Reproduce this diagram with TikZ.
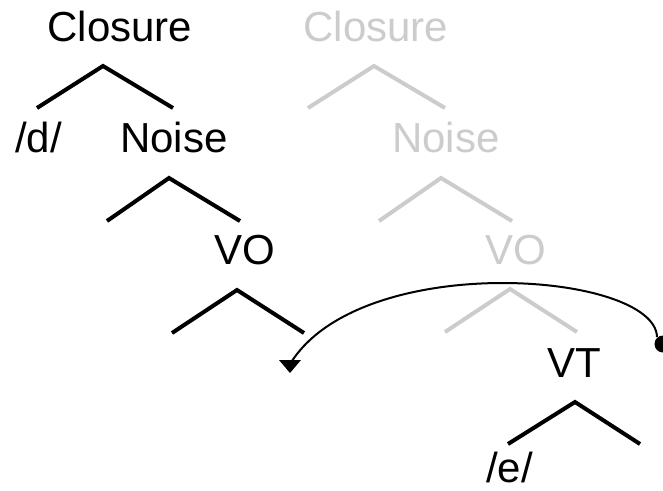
\documentclass[tikz,border=0pt]{standalone}
\usepackage{fontspec}
\setmainfont{Liberation Sans}
\definecolor{lightgr}{RGB}{204,204,204}
\begin{document}
\begin{tikzpicture}[x=1pt,y=-1pt,
  lbl/.style={anchor=base, inner sep=0pt, font=\fontsize{42}{42}\selectfont},
  glbl/.style={lbl, text=lightgr},
  br/.style={line width=4pt, line cap=butt, line join=miter},
  gbr/.style={br, draw=lightgr},
  movecurve/.style={line width=2pt}]
\useasboundingbox (0,0) rectangle (663,490);
\clip (0,0) rectangle (663,490);
% black tree
\node[lbl] (cl) at (120,41) {Closure};
\node[lbl] (d) at (38.5,152) {/d/};
\node[lbl] (no) at (174,152) {Noise};
\node[lbl] (vo) at (245,264) {VO};
% grey tree
\node[glbl] (gcl) at (376,41) {Closure};
\node[glbl] (gno) at (446,152) {Noise};
\node[glbl] (gvo) at (516,264) {VO};
% VT
\node[lbl] (vt) at (574,377) {VT};
\node[lbl] (e) at (509.5,482) {/e/};
% branch coordinates
\coordinate (clA) at (103,66); \coordinate (clL) at (37,108); \coordinate (clR) at (173,108);
\coordinate (noA) at (169,178); \coordinate (noL) at (107,221); \coordinate (noR) at (240,221);
\coordinate (voA) at (237,290); \coordinate (voL) at (172,333); \coordinate (voR) at (304,333);
\coordinate (gclA) at (374,66); \coordinate (gclL) at (308,108); \coordinate (gclR) at (445,108);
\coordinate (gnoA) at (441,178); \coordinate (gnoL) at (379,221); \coordinate (gnoR) at (512,221);
\coordinate (gvoA) at (510,289); \coordinate (gvoL) at (445,332); \coordinate (gvoR) at (577,332);
\coordinate (vtA) at (575,402); \coordinate (vtL) at (508,444); \coordinate (vtR) at (640,444);
\draw[br] (clL) -- (clA) -- (clR);
\draw[br] (noL) -- (noA) -- (noR);
\draw[br] (voL) -- (voA) -- (voR);
\draw[gbr] (gclL) -- (gclA) -- (gclR);
\draw[gbr] (gnoL) -- (gnoA) -- (gnoR);
\draw[gbr] (gvoL) -- (gvoA) -- (gvoR);
\draw[br] (vtL) -- (vtA) -- (vtR);
% movement arrow
\coordinate (dotc) at (663,344);
\coordinate (cstart) at (657,337);
\coordinate (cend) at (292,361);
\coordinate (tipL) at (279,360);
\coordinate (tipR) at (301,360);
\coordinate (tip) at (290,373);
\fill (dotc) circle (8.5);
\draw[movecurve] (cstart) .. controls (655,272) and (365,250) .. (cend);
\fill (tipL) -- (tipR) -- (tip) -- cycle;
\end{tikzpicture}
\end{document}
